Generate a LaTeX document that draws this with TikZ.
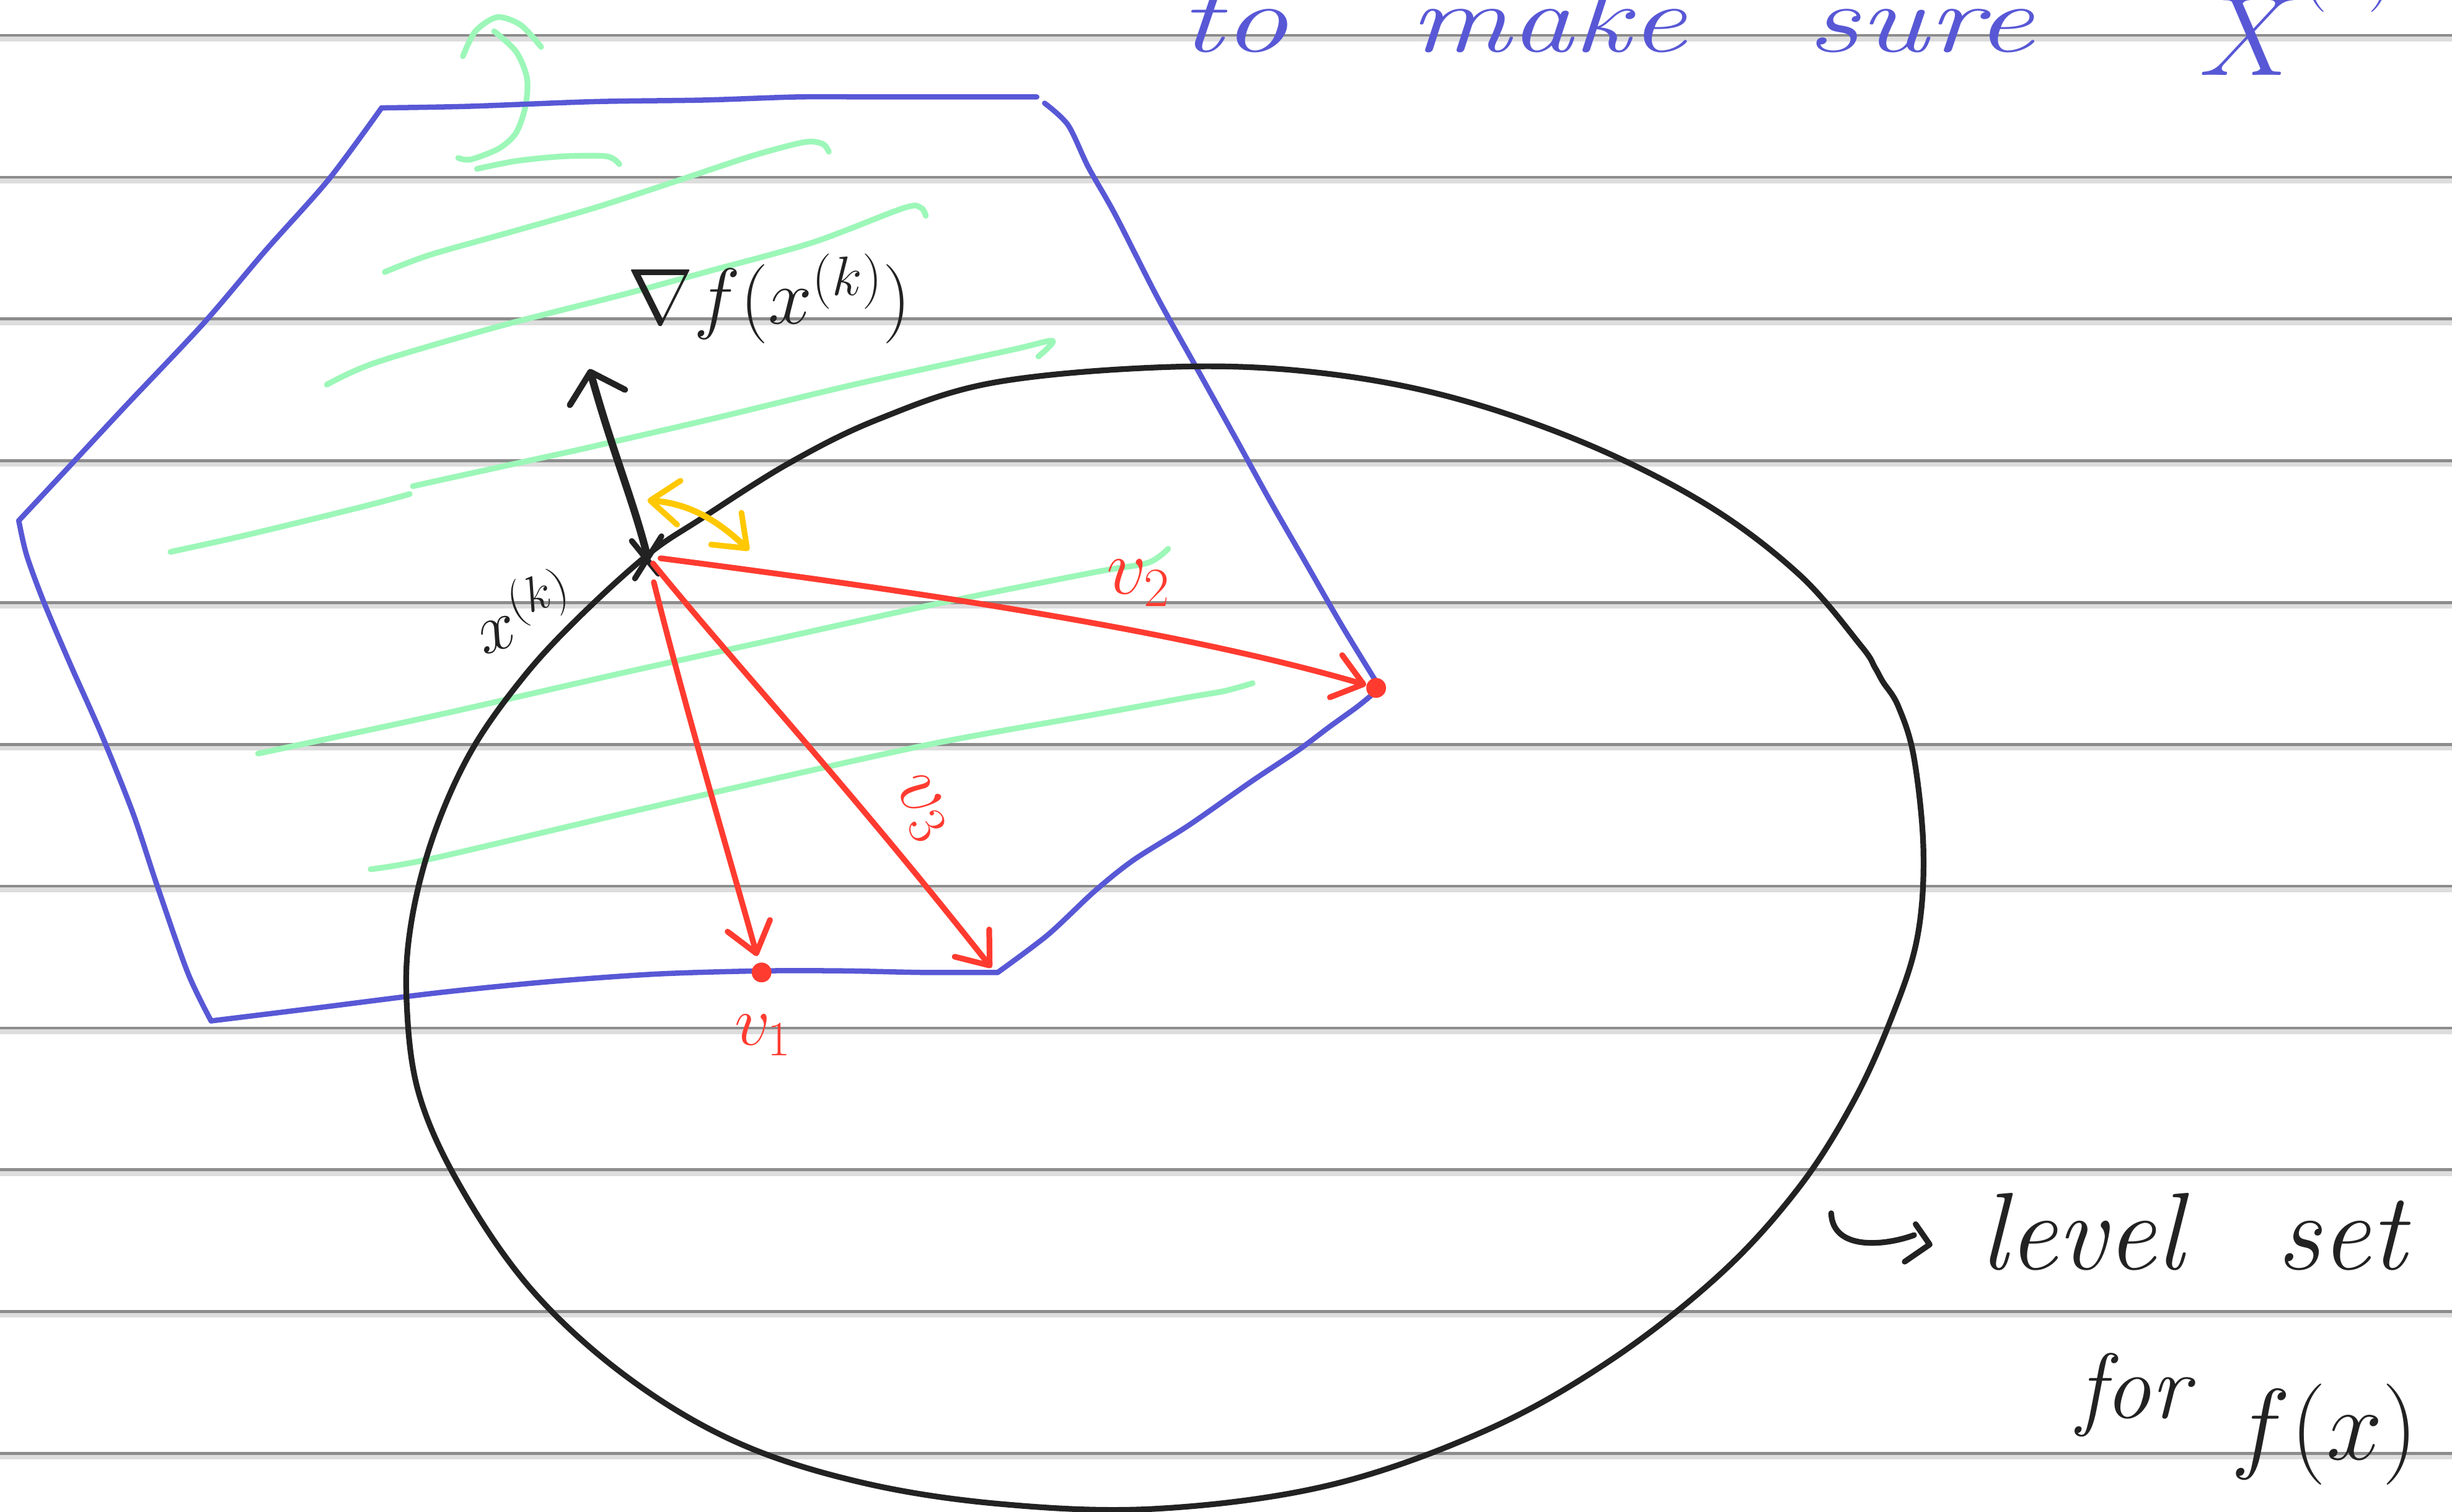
\RequirePackage{fix-cm}
\documentclass[tikz,border=0pt]{standalone}
\usetikzlibrary{arrows.meta}
\definecolor{inkblue}{RGB}{88,88,214}
\definecolor{inkgreen}{RGB}{156,247,184}
\definecolor{inkred}{RGB}{255,59,48}
\definecolor{inkyellow}{RGB}{255,200,0}
\definecolor{inkblack}{RGB}{34,34,34}
\definecolor{rulegray}{RGB}{140,140,140}
\begin{document}
\begin{tikzpicture}[x=0.025cm,y=-0.025cm,
  rulecore/.style={draw=rulegray,line width=1.3pt},
  rulehalo/.style={draw=rulegray!30,line width=3.4pt},
  pen/.style={line cap=round,line join=round},
  bluepen/.style={pen,draw=inkblue,line width=2.4pt},
  greenpen/.style={pen,draw=inkgreen,line width=2.6pt},
  blackpen/.style={pen,draw=inkblack,line width=2.6pt},
  barb/.tip={Straight Barb[length=13pt,width=20pt,line width=2.6pt,round]},
  redarrow/.style={pen,draw=inkred,line width=2.6pt,-barb},
  yellowarrow/.style={pen,draw=inkyellow,line width=2.8pt,barb-barb},
  gradarrow/.style={pen,draw=inkblack,line width=3.4pt,-{Straight Barb[length=12pt,width=26pt,line width=2.8pt,round]}},
  reddot/.style={circle,fill=inkred,inner sep=0pt,minimum size=9pt},
  blacklabel/.style={text=inkblack,inner sep=0pt},
  redlabel/.style={text=inkred,inner sep=0pt},
  bluelabel/.style={text=inkblue,inner sep=0pt},
  topword/.style={bluelabel,anchor=base,font=\fontsize{44}{50}\selectfont\itshape}
]
\useasboundingbox (0,0) rectangle (1568,967);
\clip (0,0) rectangle (1568,967);
\fill[white] (0,0) rectangle (1568,967);

% ruled paper
\foreach \yy in {22.6,113.3,204,294.7,385.4,476.1,566.8,657.5,748.2,838.9,929.6}{
  \draw[rulehalo] (0,\yy+1.5) -- (1568,\yy+1.5);
  \draw[rulecore] (0,\yy) -- (1568,\yy);
}

% top line of text (partly cut off)
\node[topword] (wto) at (789,33) {\scalebox{1.35}[1]{to}};
\node[topword] (wmake) at (990,33) {\scalebox{1.3}[1]{make}};
\node[topword] (wsure) at (1228,33) {\scalebox{1.35}[1]{sure}};
\node[bluelabel,anchor=base west,font=\fontsize{52}{58}\selectfont] (wX) at (1406,48) {$X$\raisebox{37pt}{\fontsize{34}{38}\selectfont$(k)$}};

% green hatching (feasible region)
\draw[greenpen] plot[smooth] coordinates {(296,36) (304,20) (318,11) (333,16) (346,30)};
\draw[greenpen] plot[smooth] coordinates {(316,20) (330,33) (337,50) (336,68) (330,85) (319,95) (301,102) (293,101)};
\draw[greenpen] plot[smooth] coordinates {(305,108) (330,103) (360,100) (388,100) (396,105)};
\draw[greenpen] plot[smooth] coordinates {(246,174) (275,163) (328,148) (380,133) (432,116) (480,100) (514,91) (526,92) (530,97)};
\draw[greenpen] plot[smooth] coordinates {(209,246) (240,232) (318,209) (400,188) (455,173) (520,155) (578,133) (589,133) (592,138)};
\draw[greenpen] plot[smooth] coordinates {(109,353) (150,344) (200,332) (240,322) (262,316)};
\draw[greenpen] plot[smooth] coordinates {(264,311) (291,305) (364,289) (373,287) (455,268) (546,246) (646,224) (673,218) (664,228)};
\draw[greenpen] plot[smooth] coordinates {(165,482) (277,458) (400,430) (500,408) (600,386) (700,366) (734,360) (747,351)};
\draw[greenpen] plot[smooth] coordinates {(237,556) (277,549) (400,520) (500,497) (600,475) (700,457) (760,446) (783,442) (801,437)};

% blue polygon (feasible set)
\draw[bluepen] plot[smooth] coordinates {(244,69) (300,68) (380,65) (450,64) (510,62) (560,62) (620,62) (663,62)};
\draw[bluepen] plot[smooth] coordinates {(668,66) (683,80) (696,107) (713,137) (740,190) (765,235) (790,280) (812,320) (835,360) (858,400) (880,436)};
\draw[bluepen] plot[smooth] coordinates {(879,443) (868,452) (850,465) (830,480) (800,500) (760,528) (725,550) (700,570) (670,598) (638,622)};
\draw[bluepen] plot[smooth] coordinates {(638,622) (590,622) (540,621) (487,621) (420,623) (350,628) (280,635) (200,645) (135,653)};
\draw[bluepen] plot[smooth] coordinates {(135,653) (120,622) (100,565) (85,520) (65,470) (45,425) (28,385) (17,355) (12,333)};
\draw[bluepen] plot[smooth] coordinates {(12,333) (40,303) (80,260) (130,207) (170,160) (210,115) (244,69)};

% level set (black closed curve)
\draw[blackpen] plot[smooth cycle,tension=0.6] coordinates {
  (260,640) (263,590) (277,535) (301,481) (334,434) (369,396) (414,355) (448,332) (505,296)
  (562,268) (634,245) (740,235) (830,237) (920,252) (1010,282) (1090,322) (1150,367)
  (1190,413) (1199,427) (1204,436) (1214,452) (1224,485) (1230,545) (1226,600) (1210,650) (1185,705)
  (1150,760) (1100,815) (1030,870) (950,915) (850,950) (740,965) (640,962) (550,948)
  (470,922) (400,880) (340,825) (295,760) (268,700)};

% key points
\coordinate (xk) at (414,356);
\coordinate (gtip) at (377,236);
\node[reddot] (V2) at (880,440) {};
\node[reddot] (V1) at (487,622) {};
\coordinate (V3) at (634,619);
\coordinate (ya) at (414,320);
\coordinate (yb) at (479,352);

% gradient arrow and marker at x^(k)
\draw[gradarrow] (xk) .. controls (405,320) and (392,290) .. (gtip);
\draw[blackpen] (404,346) -- (421,367);
\draw[blackpen] (423,343) -- (406,370);

% yellow double arrow
\draw[yellowarrow] (ya) .. controls (440,322) and (458,332) .. (yb);

% red arrows to vertices
\draw[redarrow,shorten <=6pt] (xk) .. controls (600,380) and (760,405) .. (V2);
\draw[redarrow,shorten <=4pt] (xk) .. controls (470,425) and (540,500) .. (V3);
\draw[redarrow,shorten <=12pt,shorten >=3pt] (xk) .. controls (440,460) and (470,560) .. (V1);

% labels
\node[blacklabel,font=\fontsize{36}{40}\selectfont] (gradlabel) at (492,191) {$\nabla f(x^{(k)})$};
\node[blacklabel,font=\fontsize{32}{36}\selectfont,rotate=18] (xklabel) at (334,390) {$x^{(k)}$};
\node[redlabel,font=\fontsize{36}{40}\selectfont] (v2label) at (728,373) {$v_2$};
\node[redlabel,font=\fontsize{36}{40}\selectfont,rotate=-55] (v3label) at (589,517) {$v_3$};
\node[redlabel,font=\fontsize{32}{36}\selectfont] (v1label) at (488,662) {$v_1$};

% hooked arrow and note
\coordinate (hk1) at (1171,776);
\coordinate (hk2) at (1224,790);
\draw[blackpen] (hk1) .. controls (1172,800) and (1205,797) .. (hk2);
\draw[blackpen] (1225,783) -- (1234,796) -- (1218,807);
\node[blacklabel,anchor=base west,font=\fontsize{50}{54}\selectfont\itshape] (lvl) at (1266,812) {level\hspace{0.85em}set};
\node[blacklabel,anchor=base west,font=\fontsize{42}{46}\selectfont\itshape] (forf) at (1328,907) {for\hspace{0.45em}\raisebox{-0.45em}{\fontsize{46}{50}\selectfont$f(x)$}};
\end{tikzpicture}
\end{document}
